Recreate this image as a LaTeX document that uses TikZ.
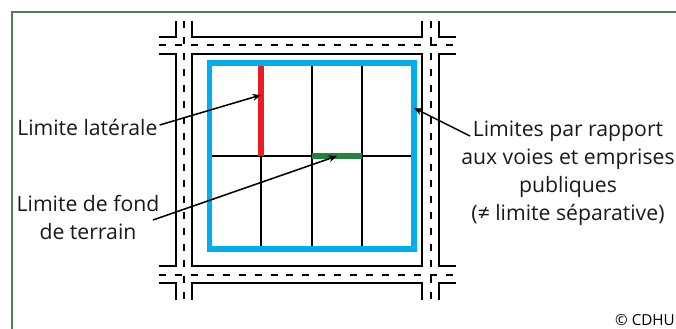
\documentclass[tikz,border=0pt]{standalone}
\usepackage{fontspec}
\setmainfont{Open Sans}
\usepackage{xcolor}
\usetikzlibrary{arrows.meta,positioning}
\definecolor{cFrame}{RGB}{84,122,92}
\definecolor{cVoie}{RGB}{0,174,239}
\definecolor{cLat}{RGB}{237,28,36}
\definecolor{cFond}{RGB}{34,130,62}
\tikzset{
  frameline/.style={draw=cFrame, line width=1.1pt},
  road/.style={draw=black, line width=1.25pt},
  axis/.style={draw=black, line width=1.25pt, dash pattern=on 5.25pt off 6.7pt},
  grid line/.style={draw=black, line width=1.1pt},
  lbl/.style={font=\fontsize{15.9pt}{21pt}\selectfont, align=center, text=black!90, inner sep=0pt},
  arr/.style={-{Stealth[length=2.2mm, width=1.8mm]}, line width=1.15pt},
}
\begin{document}
\begin{tikzpicture}[x=0.75pt, y=-0.75pt]
  \useasboundingbox (0,0) rectangle (676,329);
  % frame
  \draw[frameline] (12,329) -- (12,12) -- (676,12);

  % roads
  \draw[road] (176,21) -- (176,37) -- (159,37);
  \draw[road] (192,21) -- (192,37) -- (422,37) -- (422,21);
  \draw[road] (439,21) -- (439,37) -- (456,37);
  \draw[road] (159,54) -- (176,54) -- (176,266) -- (159,266);
  \draw[road] (192,54) -- (422,54) -- (422,266) -- (192,266) -- cycle;
  \draw[road] (456,54) -- (439,54) -- (439,266) -- (456,266);
  \draw[road] (159,283) -- (176,283) -- (176,300);
  \draw[road] (192,300) -- (192,283) -- (422,283) -- (422,300);
  \draw[road] (439,300) -- (439,283) -- (456,283);
  % centre lines
  \foreach \y in {45,275}
    \draw[axis] (159,\y) -- (456,\y);
  \foreach \x in {184,431}
    \draw[axis] (\x,21) -- (\x,300);

  % plots
  \foreach \x in {261,312,362}
    \draw[grid line] (\x,63) -- (\x,249);
  \draw[grid line] (210,156) -- (414,156);
  \draw[cLat, line width=3.8pt] (261,62) -- (261,156);
  \draw[cFond, line width=3.8pt] (312,156) -- (362,156);
  \draw[cVoie, line width=4.2pt] (209.5,63) rectangle (414,249);

  % labels
  \node[lbl, anchor=west] (lat) at (17,127) {Limite latérale};
  \node[lbl] (fond) at (88,217) {Limite de fond\\de terrain};
  \node[lbl] (voies) at (568,173) {Limites par rapport\\aux voies et emprises\\publiques\\(≠ limite séparative)};
  \node[font=\fontsize{11.4pt}{14pt}\selectfont, anchor=east, inner sep=0pt] (cdhu) at (675,320) {© CDHU};

  \coordinate (latend) at (261,95);
  \coordinate (fondstart) at (153,220);
  \coordinate (fondend) at (337,156);
  \coordinate (voiestart) at (470,136);
  \coordinate (voieend) at (414,108);
  \draw[arr] (lat.east) ++(2,-2) -- (latend);
  \draw[arr] (fondstart) -- (fondend);
  \draw[arr] (voiestart) -- (voieend);
\end{tikzpicture}
\end{document}
